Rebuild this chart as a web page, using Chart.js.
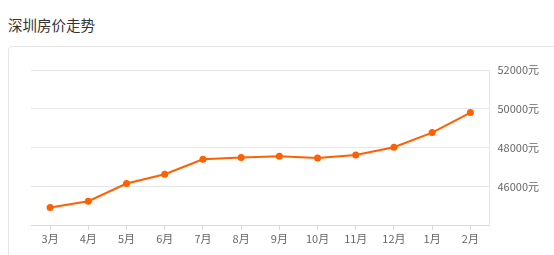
<!DOCTYPE html>
<html>
<head>
<meta charset="utf-8">
<script src="https://cdn.jsdelivr.net/npm/chart.js@4/dist/chart.umd.min.js"></script>
<style>
  html, body { margin:0; padding:0; background:#fff; width:554px; height:255px; overflow:hidden; }
  #title { position:absolute; left:8px; top:14px; font-family:"Noto Sans CJK SC", sans-serif; font-size:14.5px; color:#333; line-height:22px; }
  #panel { position:absolute; left:8px; top:46px; width:600px; height:300px; border:1px solid #e6e6e6; border-radius:4px; box-sizing:border-box; }
  #wrap { position:absolute; left:0; top:0; width:554px; height:255px; }
</style>
</head>
<body>
<div id="title">深圳房价走势</div>
<div id="panel"></div>
<div id="wrap"><canvas id="c" width="554" height="255"></canvas></div>
<script>
const categories = ["3月","4月","5月","6月","7月","8月","9月","10月","11月","12月","1月","2月"];
const prices = [44940, 45265, 46171, 46650, 47419, 47504, 47573, 47487, 47641, 48034, 48786, 49812];
const yTicks = [44000, 46000, 48000, 50000, 52000];

new Chart(document.getElementById('c'), {
  type: 'line',
  data: {
    labels: categories,
    datasets: [{
      data: prices,
      borderColor: '#ff6000',
      backgroundColor: '#ff6000',
      borderWidth: 2,
      pointRadius: 3.5,
      pointHoverRadius: 3.5,
      pointBorderWidth: 0,
      tension: 0,
      fill: false
    }]
  },
  options: {
    responsive: false,
    animation: false,
    devicePixelRatio: 1,
    layout: { padding: { left: 31, right: 7, top: 70, bottom: 8 } },
    plugins: { legend: { display: false }, tooltip: { enabled: false }, title: { display: false } },
    scales: {
      x: {
        offset: true,
        grid: { display: true, drawOnChartArea: false, drawTicks: true, tickLength: 4, color: '#d8d8d8' },
        border: { display: true, color: '#d8d8d8', width: 1 },
        ticks: { color: '#666', font: { family: '"Noto Sans CJK SC", sans-serif', size: 11 }, padding: 2, maxRotation: 0, autoSkip: false }
      },
      y: {
        position: 'right',
        min: 44000,
        max: 52000,
        afterBuildTicks: (axis) => { axis.ticks = yTicks.map(v => ({ value: v })); },
        grid: { color: '#e6e6e6', drawTicks: false, lineWidth: 1 },
        border: { display: true, color: '#e6e6e6' },
        ticks: {
          color: '#666',
          font: { family: '"Noto Sans CJK SC", sans-serif', size: 11 },
          padding: 8,
          callback: (v) => v === 44000 ? null : v + '元'
        }
      }
    }
  }
});
</script>
</body>
</html>
